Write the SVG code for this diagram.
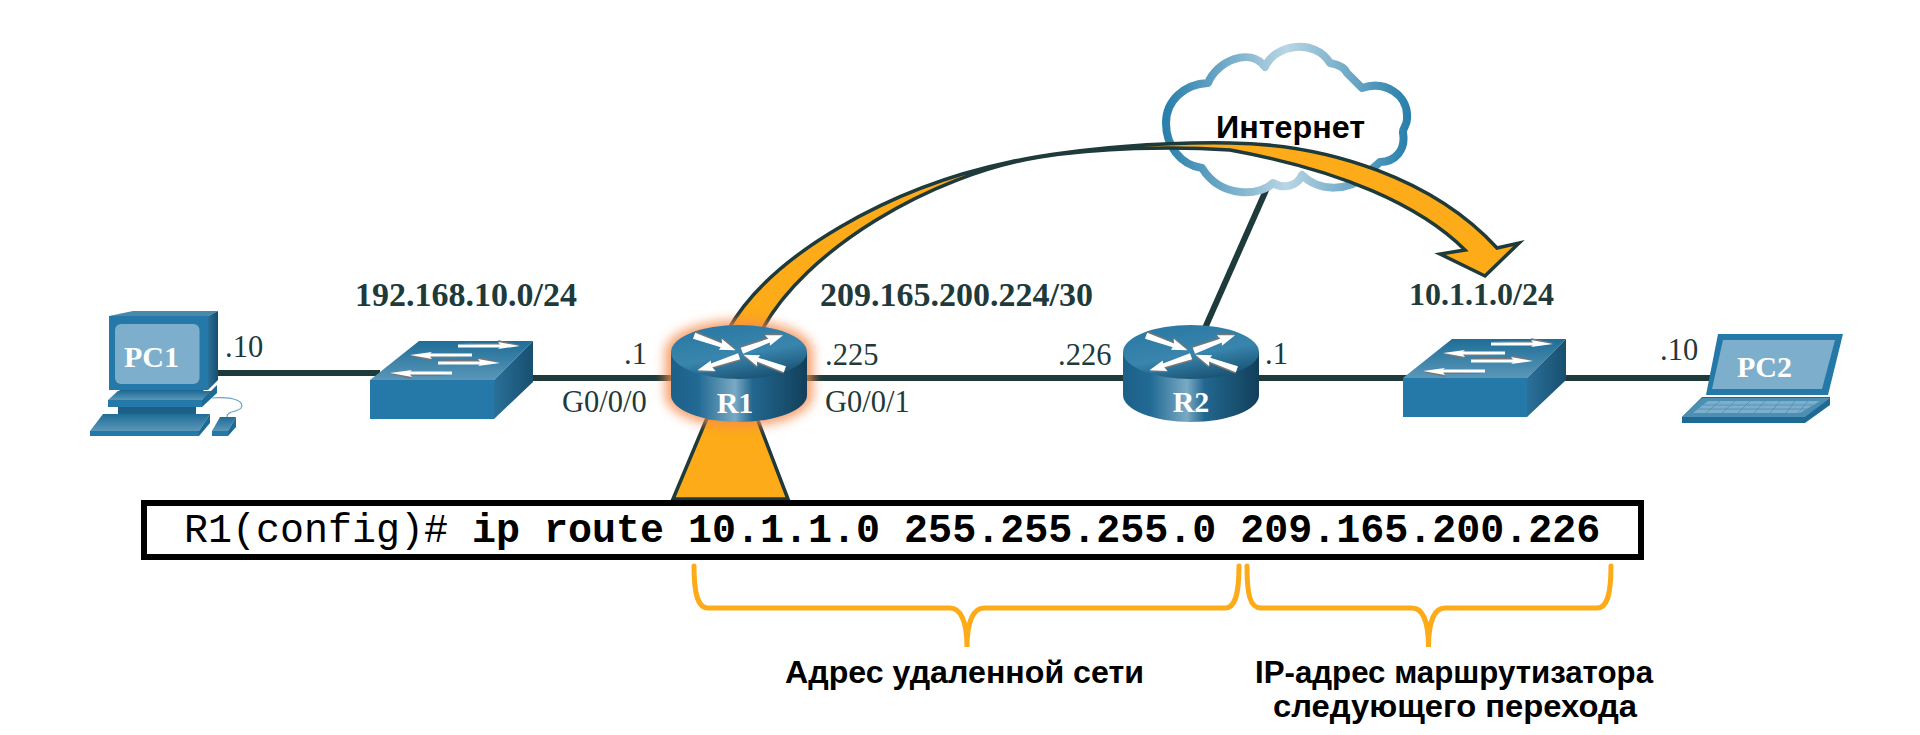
<svg xmlns="http://www.w3.org/2000/svg" xmlns:xlink="http://www.w3.org/1999/xlink" width="1920" height="735" viewBox="0 0 1920 735">
<style>
.link{stroke:#1e3a3a;stroke-width:6;fill:none}
.lb{font-family:"Liberation Serif",serif;font-size:30.500px;fill:#1e3a3a}
.net{font-family:"Liberation Serif",serif;font-size:34px;font-weight:bold;fill:#1e3a3a}
.dev{font-family:"Liberation Serif",serif;font-size:30px;font-weight:bold;fill:#fff}
.ru{font-family:"Liberation Sans",Arial,sans-serif;font-size:32px;font-weight:bold;fill:#000}
.cmd{font-family:"Liberation Mono",monospace;font-size:40px;fill:#000}
.brace{fill:none;stroke:#fdab18;stroke-width:5;stroke-linecap:round}
.front{fill:#2479a8}
.gold{fill:#fdab18;stroke:#1e3a3a;stroke-width:3.5;stroke-linejoin:miter}
</style>
<defs>
<linearGradient id="gBody" x1="0" y1="0" x2="1" y2="0">
<stop offset="0" stop-color="#1d6089"/><stop offset=".2" stop-color="#216a94"/><stop offset=".47" stop-color="#7aa9c4"/><stop offset=".6" stop-color="#22678f"/><stop offset="1" stop-color="#123f5a"/>
</linearGradient>
<linearGradient id="gTop" x1=".25" y1="0" x2=".7" y2="1">
<stop offset="0" stop-color="#2a78a3"/><stop offset=".55" stop-color="#3985ad"/><stop offset="1" stop-color="#174f70"/>
</linearGradient>
<linearGradient id="gSwTop" x1="0" y1="0" x2="0" y2="1">
<stop offset="0" stop-color="#1f6d98"/><stop offset="1" stop-color="#5a97b8"/>
</linearGradient>
<linearGradient id="gSide" x1="0" y1="0" x2="1" y2="0">
<stop offset="0" stop-color="#2a7099"/><stop offset="1" stop-color="#174f70"/>
</linearGradient>
<linearGradient id="gCloud" gradientUnits="userSpaceOnUse" x1="1166" y1="0" x2="1407" y2="0">
<stop offset="0" stop-color="#2a80ac"/><stop offset=".5" stop-color="#b9d6e4"/><stop offset="1" stop-color="#2a80ac"/>
</linearGradient>
<filter id="glow" x="-30%" y="-30%" width="160%" height="160%"><feGaussianBlur stdDeviation="5.500"/></filter>
<g id="ra">
<path fill="#777" d="M0 -5 L29 -3.500 L27 -8 L44 -1.500 L28 3.500 L29 1 L0 1.500Z"/>
<path fill="#fff" d="M0 -3.500 L29 -2 L27 -6.500 L44 0 L28 5 L29 2 L0 3Z"/>
</g>
<g id="sa">
<path fill="#777" d="M0 -3 L42 -3 L40 -6 L62 -1 L40 1Z"/>
<path fill="#fff" d="M0 -1.500 L42 -1.500 L40 -4 L62 0 L40 3 L42 1.500 L0 1.500Z"/>
</g>
<g id="routerArt">
<path fill="url(#gBody)" d="M671 352 V395 A68 27 0 0 0 807 395 V352Z"/>
<ellipse cx="739" cy="352" rx="68" ry="27" fill="url(#gTop)"/>
<use href="#ra" transform="translate(694 336) rotate(19)"/>
<use href="#ra" transform="translate(742 351) rotate(-21)"/>
<use href="#ra" transform="translate(739 356) rotate(161)"/>
<use href="#ra" transform="translate(785 369) rotate(199)"/>
</g>
<g id="switchArt">
<path fill="url(#gSwTop)" d="M1403 378 L1452 339 H1566 L1527 378Z"/>
<path fill="url(#gSide)" d="M1527 378 L1566 339 V380 L1527 417Z"/>
<rect class="front" x="1403" y="378" width="124" height="39"/>
<use href="#sa" transform="translate(1491 344)"/>
<use href="#sa" transform="translate(1505 353) rotate(180)"/>
<use href="#sa" transform="translate(1471 361)"/>
<use href="#sa" transform="translate(1485 371) rotate(180)"/>
</g>
</defs>

<rect width="1920" height="735" fill="#fff"/>

<g id="connectors">
<line class="link" x1="216" y1="373" x2="380" y2="373"/>
<line class="link" x1="520" y1="378" x2="680" y2="378"/>
<line class="link" x1="800" y1="378" x2="1130" y2="378"/>
<line class="link" x1="1250" y1="378" x2="1410" y2="378"/>
<line class="link" x1="1560" y1="378" x2="1712" y2="378"/>
<line class="link" x1="1205" y1="328" x2="1267" y2="188"/>
</g>

<g id="cloud">
<path fill="#fff" stroke="url(#gCloud)" stroke-width="8" stroke-linejoin="round" d="M1208 83 C1216 62 1250 46 1265 67 C1275 44 1315 38 1330 63 C1340 65 1345 68 1347 73 L1362 88 C1385 80 1408 95 1407 117 C1408 125 1402 128 1403 133 C1406 150 1395 162 1380 162 L1363 177 C1350 190 1320 193 1302 175 C1298 185 1285 190 1273 183 C1262 195 1222 200 1202 168 C1180 165 1166 145 1166 123 C1166 100 1185 84 1208 83Z"/>
<text class="ru" x="1216" y="138" textLength="149" lengthAdjust="spacingAndGlyphs">Интернет</text>
</g>

<g id="route-arrow">
<path class="gold" d="M728 330 C770 255 890 187 1010 162 C1080 147 1170 142 1230 143 C1330 144 1435 180 1497 248 L1519 243 L1485 276 L1440 254 L1465 250 C1420 205 1340 170 1230 150 C1170 146 1100 148 1040 157 C930 175 805 250 762 330Z"/>
<path class="gold" d="M707 418 L673 499 H788 L757 418Z"/>
</g>

<g id="PC1">
<path fill="#4a88ab" d="M109 316 L133 311 H218 L208 316Z"/>
<path fill="url(#gSide)" d="M208 316 L218 311 V380 L208 390Z"/>
<rect class="front" x="109" y="316" width="99" height="74"/>
<rect x="115" y="324" width="84.500" height="60" rx="6" fill="#7dafcc"/>
<path fill="#1f6a94" d="M120 390 H204 L200 394 H115Z"/>
<path fill="url(#gSwTop)" d="M108 400 L118 391 H217 L202 400Z"/>
<path fill="#1f6a94" d="M202 400 L217 385 V393 L202 407Z"/>
<rect class="front" x="108" y="400" width="94" height="7"/>
<rect x="118" y="407" width="78" height="7" fill="#1d5f86"/>
<path fill="url(#gSwTop)" d="M90 431 L103 414 H210 L199 431Z"/>
<path fill="#1f6a94" d="M199 431 L210 414 V423 L199 436Z"/>
<rect class="front" x="90" y="431" width="109" height="5"/>
<path fill="url(#gSwTop)" d="M212 431 L220 417 H236 L228 431Z"/>
<path fill="#1f6a94" d="M228 431 L236 417 V427 L228 436Z"/>
<rect class="front" x="212" y="431" width="16" height="5"/>
<path fill="none" stroke="#6ea3c2" stroke-width="1.200" d="M212 398 C235 396 245 402 241 408 C238 412 226 411 227 417"/>
<text class="dev" x="124" y="367">PC1</text>
</g>

<g id="SW1">
<use href="#switchArt" transform="translate(-1033 2)"/>
</g>

<g id="R1">
<path fill="#f58a4b" opacity=".8" filter="url(#glow)" d="M665 352 A74 32 0 0 1 813 352 V395 A74 32 0 0 1 665 395Z"/>
<use href="#routerArt"/>
<text class="dev" x="735" y="413" text-anchor="middle">R1</text>
</g>

<g id="R2">
<use href="#routerArt" transform="translate(452 0)"/>
<text class="dev" x="1191" y="412" text-anchor="middle">R2</text>
</g>

<g id="SW2">
<use href="#switchArt"/>
</g>

<g id="PC2">
<path fill="#2479a8" d="M1718 334 H1843 L1828 395 H1706Z"/>
<path fill="#7dafcc" d="M1723 340 H1835 L1822 389 H1712Z"/>
<path fill="#1f6a94" d="M1702 397 H1830 V405 L1805 423 H1682 V417Z"/>
<path fill="#4d8fb3" d="M1702 398 H1830 L1805 417 H1682Z"/>
<path fill="#7dafcc" d="M1708 401 H1820 L1800 413 H1693Z"/>
<path fill="none" stroke="#4d8fb3" stroke-width=".8" d="M1703 405 H1813 M1698 409 H1807 M1720 401 L1706 413 M1735 401 L1722 413 M1750 401 L1738 413 M1765 401 L1754 413 M1780 401 L1770 413 M1795 401 L1786 413 M1808 401 L1798 413"/>
<text class="dev" x="1737" y="377">PC2</text>
</g>

<g id="labels">
<text class="net" x="355" y="306">192.168.10.0/24</text>
<text class="net" x="820" y="306">209.165.200.224/30</text>
<text class="net" x="1409" y="305" style="font-size:32px">10.1.1.0/24</text>
<text class="lb" x="225" y="357">.10</text>
<text class="lb" x="624" y="364">.1</text>
<text class="lb" x="562" y="412">G0/0/0</text>
<text class="lb" x="825" y="365">.225</text>
<text class="lb" x="825" y="412">G0/0/1</text>
<text class="lb" x="1058" y="365">.226</text>
<text class="lb" x="1265" y="364">.1</text>
<text class="lb" x="1660" y="360">.10</text>
</g>

<g id="command">
<rect x="144" y="503" width="1497" height="54" fill="#fff" stroke="#000" stroke-width="6"/>
<text class="cmd" x="184" y="542" xml:space="preserve">R1(config)# <tspan font-weight="bold">ip route 10.1.1.0 255.255.255.0 209.165.200.226</tspan></text>
</g>

<g id="annotations">
<path class="brace" d="M694 566 C694 595 698 608 708 608 H950 C960 608 967 620 967 647 C967 620 974 608 984 608 H1225 C1235 608 1239 595 1239 566"/>
<path class="brace" d="M1247 566 C1247 595 1250 608 1261 608 H1412 C1422 608 1428.500 620 1428.500 647 C1428.500 620 1435 608 1445 608 H1597 C1607 608 1611 595 1611 566"/>
<text class="ru" x="785" y="683" textLength="359" lengthAdjust="spacingAndGlyphs">Адрес удаленной сети</text>
<text class="ru" x="1255" y="683" textLength="398" lengthAdjust="spacingAndGlyphs">IP-адрес маршрутизатора</text>
<text class="ru" x="1273" y="717" textLength="364" lengthAdjust="spacingAndGlyphs">следующего перехода</text>
</g>
</svg>
